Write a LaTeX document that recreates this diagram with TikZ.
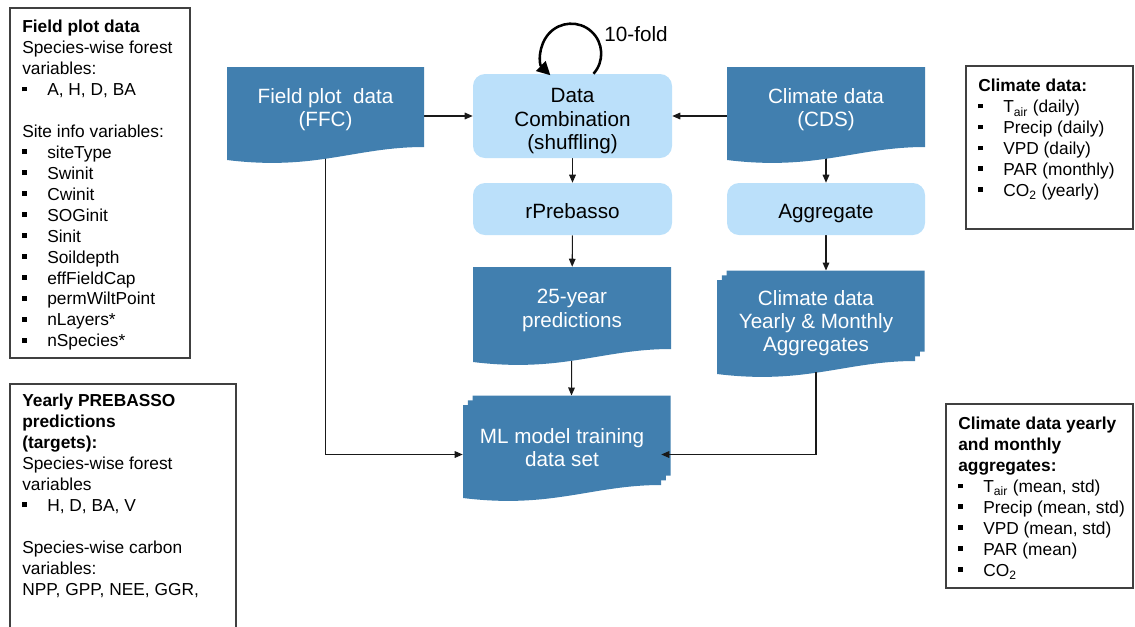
\documentclass[tikz,border=0pt]{standalone}
\usepackage{fontspec}
\setmainfont{Liberation Sans}
\usetikzlibrary{arrows.meta}
\pgfdeclarelayer{background}
\pgfsetlayers{background,main}
\definecolor{docblue}{RGB}{65,127,175}
\definecolor{stepblue}{RGB}{187,224,250}
\definecolor{framegray}{RGB}{64,64,64}
\newcommand{\mainsize}{\fontsize{15.5}{17.5}\selectfont}
\newcommand{\legendsize}{\fontsize{13}{15.7}\selectfont}
\newcommand{\sqitem}{\makebox[18.75pt][l]{\raisebox{0.25em}{\rule{3.6pt}{3.6pt}}}}
\tikzset{
  doc fill/.style={fill=docblue},
  doc text/.style={text=white, align=center, font=\mainsize, inner sep=0pt},
  step box/.style={fill=stepblue, rounded corners=9pt, align=center, font=\mainsize, inner sep=0pt},
  step line/.style={step box, text height=17pt, text depth=3.5pt},
  flow line/.style={line width=0.8pt, black!90},
  flow arrow/.style={flow line, -{Triangle[length=6pt, width=5pt]}},
  loop line/.style={line width=1.9pt, -{Triangle[length=10pt, width=10pt]}},
  legend frame/.style={line width=0.8pt, framegray},
  legend text/.style={align=left, font=\legendsize, inner sep=0pt, anchor=north west},
}
% page with a wavy lower edge: left, top, right, base
\newcommand{\fillDoc}[4]{
  \fill[doc fill] ({#1},{-(#2)}) -- ({#3},{-(#2)}) -- ({#3},{17-(#4)})
    .. controls ({(#3)-0.35*((#3)-(#1))},{17-(#4)}) and ({(#1)+0.45*((#3)-(#1))},{-7-(#4)})
    .. ({#1},{4-(#4)}) -- cycle;
}
% single document card: name, left, top, right, base, text
\newcommand{\drawDocCard}[6]{
  \fillDoc{#2}{#3}{#4}{#5}
  \node[doc text, minimum width={((#4)-(#2))*0.75pt}, minimum height={((#5)-12-(#3))*0.75pt}]
    (#1) at ({((#2)+(#4))/2},{-((#3)+(#5)-12)/2}) {#6};
}
% stacked document card, two pages behind the front one
\newcommand{\drawStackCard}[6]{
  \foreach \k in {2,1} {
    \fillDoc{(#2)+4.75*\k}{(#3)-4.75*\k}{(#4)+4.75*\k}{(#5)-4.75*\k}
  }
  \coordinate (#1-top) at ({((#2)+(#4))/2+9.5},{-((#3)-9.5)});
  \drawDocCard{#1}{#2}{#3}{#4}{#5}{#6}
}

\begin{document}
\begin{tikzpicture}[x=0.75pt, y=0.75pt]
  \useasboundingbox (0,0) rectangle (1135,-626);

  % variable lists
  \draw[legend frame] (10,-8) rectangle (190,-358);
  \node[legend text] (fieldvars) at (22,-20) {\textbf{Field plot data}\\
    Species-wise forest\\ variables:\\ \sqitem A, H, D, BA\\[15.7pt]
    Site info variables:\\ \sqitem siteType\\ \sqitem Swinit\\ \sqitem Cwinit\\
    \sqitem SOGinit\\ \sqitem Sinit\\ \sqitem Soildepth\\ \sqitem effFieldCap\\
    \sqitem permWiltPoint\\ \sqitem nLayers*\\ \sqitem nSpecies*};

  \draw[legend frame] (10,-630) -- (10,-384) -- (236,-384) -- (236,-630);
  \node[legend text] (prebassovars) at (22,-394) {\textbf{Yearly PREBASSO}\\
    \textbf{predictions}\\ \textbf{(targets):}\\ Species-wise forest\\ variables\\
    \sqitem H, D, BA, V\\[15.7pt]
    Species-wise carbon\\ variables:\\ NPP, GPP, NEE, GGR,};

  \draw[legend frame] (966,-66) rectangle (1133,-229);
  \node[legend text] (climatevars) at (978,-79) {\textbf{Climate data:}\\
    \sqitem T\textsubscript{air} (daily)\\ \sqitem Precip (daily)\\
    \sqitem VPD (daily)\\ \sqitem PAR (monthly)\\ \sqitem CO\textsubscript{2} (yearly)};

  \draw[legend frame] (946,-404) rectangle (1133,-588);
  \node[legend text] (aggvars) at (958,-417) {\textbf{Climate data yearly}\\
    \textbf{and monthly}\\ \textbf{aggregates:}\\
    \sqitem T\textsubscript{air} (mean, std)\\ \sqitem Precip (mean, std)\\
    \sqitem VPD (mean, std)\\ \sqitem PAR (mean)\\ \sqitem CO\textsubscript{2}};

  % flow
  \drawDocCard{ffc}{227}{67}{424}{164}{Field plot\ \ data\\(FFC)}
  \drawDocCard{cds}{727}{67}{925}{164}{Climate data\\(CDS)}
  \node[step box, minimum width=149.25pt, minimum height=63pt] (dc) at (572.5,-116)
    {\rule{0pt}{18.6pt}Data\\Combination\\(shuffling)};
  \node[step line, minimum width=149.25pt, minimum height=39pt] (rprebasso) at (572.5,-209) {rPrebasso};
  \node[step line, minimum width=148.5pt, minimum height=39pt] (aggregate) at (826,-209) {Aggregate};
  \drawDocCard{pred}{473}{267}{671}{366}{25-year\\predictions}
  \drawStackCard{caggr}{717}{280}{915}{378}{Climate data\\Yearly \& Monthly\\Aggregates}
  \drawStackCard{ml}{463}{405}{661}{502}{ML model training\\data set}

  \draw[loop line] ([xshift=15.75pt]dc.north) arc[start angle=-42, end angle=226, radius=30];
  \node[font=\mainsize, inner sep=0pt] (folds) at (636,-34) {10-fold};

  \draw[flow arrow] ([yshift=-4pt]caggr.south) |- ([yshift=-5.25pt]ml.east);

  \begin{pgfonlayer}{background}
    \draw[flow arrow] (ffc.east |- dc.west) -- (dc.west);
    \draw[flow arrow] (cds.west |- dc.east) -- (dc.east);
    \draw[flow arrow] (dc) -- (rprebasso);
    \draw[flow arrow] (rprebasso) -- (pred);
    \draw[flow arrow] (pred) -- (ml-top);
    \draw[flow arrow] (cds) -- (aggregate);
    \draw[flow arrow] (aggregate.south) -- (aggregate.south |- caggr-top);
    \draw[flow arrow] (ffc.south) |- ([yshift=-5.25pt]ml.west);
  \end{pgfonlayer}
\end{tikzpicture}
\end{document}
